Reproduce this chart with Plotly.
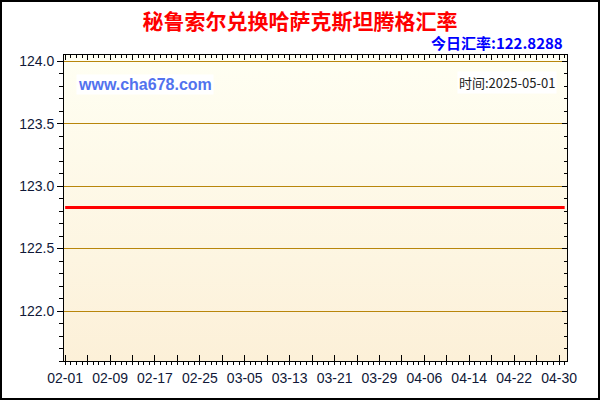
import base64
import plotly.graph_objects as go

# PEN -> KZT rate, flat over the period
dates = ['2025-02-01', '2025-05-01']
rates = [122.8288, 122.8288]

tick_labels = ['02-01', '02-09', '02-17', '02-25', '03-05', '03-13',
               '03-21', '03-29', '04-06', '04-14', '04-22', '04-30']
y_ticks = [122.0, 122.5, 123.0, 123.5, 124.0]

title_text = '秘鲁索尔兑换哈萨克斯坦腾格汇率'
today_text = '今日汇率:122.8288'
site_text = 'www.cha678.com'
time_text = '时间:2025-05-01'

W, H = 600, 400
L, R, T, B = 64, 33, 55, 39
pw, ph = W - L - R, H - T - B
DAY = 86400000

svg = ("<svg xmlns='http://www.w3.org/2000/svg' width='100' height='100' preserveAspectRatio='none'>"
       "<defs><linearGradient id='g' x1='0' y1='0' x2='0' y2='1'>"
       "<stop offset='0' stop-color='#FFFFF3'/><stop offset='1' stop-color='#FCF0D8'/>"
       "</linearGradient></defs><rect width='100' height='100' fill='url(#g)'/></svg>")
bg_src = 'data:image/svg+xml;base64,' + base64.b64encode(svg.encode()).decode()

tick_font = dict(family='Liberation Sans, Arial', size=14, color='#101838')

fig = go.Figure()
fig.add_trace(go.Scatter(x=dates, y=rates, mode='lines',
                         line=dict(color='#FF0000', width=3),
                         showlegend=False, hoverinfo='x+y'))
# helper traces so the top / right axes get drawn
fig.add_trace(go.Scatter(x=dates, y=rates, mode='lines', xaxis='x2', yaxis='y2',
                         line=dict(width=0), opacity=0,
                         showlegend=False, hoverinfo='skip'))

x_range = ['2025-01-31 19:00', '2025-05-01 10:00']
y_range = [121.6, 124.05]
x0 = '2025-' + tick_labels[0]

fig.update_layout(
    width=W, height=H,
    margin=dict(l=L, r=R, t=T, b=B),
    paper_bgcolor='white',
    plot_bgcolor='rgba(0,0,0,0)',
    title=dict(text=title_text, x=0.5, xref='container', xanchor='center',
               y=1 - 22 / H, yanchor='middle',
               font=dict(family='Noto Sans CJK SC', size=21, color='#FF0000', weight='bold')),
    xaxis=dict(
        type='date', range=x_range,
        tickmode='linear', tick0=x0, dtick=4 * DAY, ticklabelstep=2, tickformat='%m-%d',
        ticks='inside', ticklen=6, tickcolor='black', tickwidth=1,
        minor=dict(dtick=DAY, tick0=x0, ticks='outside', ticklen=3, tickcolor='black'),
        showline=True, linecolor='black', linewidth=1,
        showgrid=False, zeroline=False,
        tickfont=tick_font, ticklabelstandoff=4,
    ),
    xaxis2=dict(
        type='date', range=x_range, overlaying='x', side='top', anchor='y', matches='x',
        tickmode='linear', tick0=x0, dtick=4 * DAY, showticklabels=False,
        ticks='inside', ticklen=5, tickcolor='black',
        minor=dict(dtick=DAY, tick0=x0, ticks='inside', ticklen=3, tickcolor='black'),
        showline=True, linecolor='black', linewidth=1,
        showgrid=False, zeroline=False,
    ),
    yaxis=dict(
        range=y_range, tickmode='linear', tick0=y_ticks[0], dtick=y_ticks[1] - y_ticks[0],
        tickformat='.1f',
        ticks='outside', ticklen=6, tickcolor='black',
        minor=dict(dtick=0.1, tick0=y_ticks[0], ticks='outside', ticklen=4,
                   tickcolor='black', showgrid=False),
        showline=True, linecolor='black', linewidth=1,
        showgrid=True, gridcolor='#B8860B', gridwidth=1,
        zeroline=False, tickfont=tick_font,
    ),
    yaxis2=dict(
        range=y_range, overlaying='y', side='right', anchor='x', matches='y',
        tickmode='linear', tick0=y_ticks[0], dtick=y_ticks[1] - y_ticks[0],
        showticklabels=False,
        ticks='inside', ticklen=5, tickcolor='black',
        minor=dict(dtick=0.1, tick0=y_ticks[0], ticks='inside', ticklen=3,
                   tickcolor='black'),
        showline=True, linecolor='black', linewidth=1,
        showgrid=False, zeroline=False,
    ),
    images=[dict(source=bg_src, xref='paper', yref='paper', x=0, y=1,
                 sizex=1, sizey=1, sizing='stretch', layer='below')],
    shapes=[dict(type='rect', xref='paper', yref='paper',
                 x0=(1 - L) / pw, x1=(W - 1 - L) / pw,
                 y0=(H - B - (H - 1)) / ph, y1=(H - B - 1) / ph,
                 line=dict(color='black', width=2))],
    annotations=[
        dict(text=today_text, xref='paper', yref='paper',
             x=(565 - L) / pw, y=(H - B - 43) / ph, xanchor='right', yanchor='middle',
             showarrow=False,
             font=dict(family='Noto Sans CJK SC', size=15, color='#0000FF', weight='bold')),
        dict(text=site_text, xref='paper', yref='paper',
             x=(76 - L) / pw, y=(H - B - 84) / ph, xanchor='left', yanchor='middle',
             showarrow=False, bgcolor='white', borderpad=1,
             font=dict(family='Liberation Sans, Arial', size=16, color='#5272EE', weight='bold')),
        dict(text=time_text, xref='paper', yref='paper',
             x=(557 - L) / pw, y=(H - B - 82) / ph, xanchor='right', yanchor='middle',
             showarrow=False, bgcolor='white', borderpad=1,
             font=dict(family='Noto Sans CJK SC', size=13, color='#222222')),
    ],
)

fig.write_html('out.html', config={'displayModeBar': False},
               post_script="document.body.style.margin='0';")
